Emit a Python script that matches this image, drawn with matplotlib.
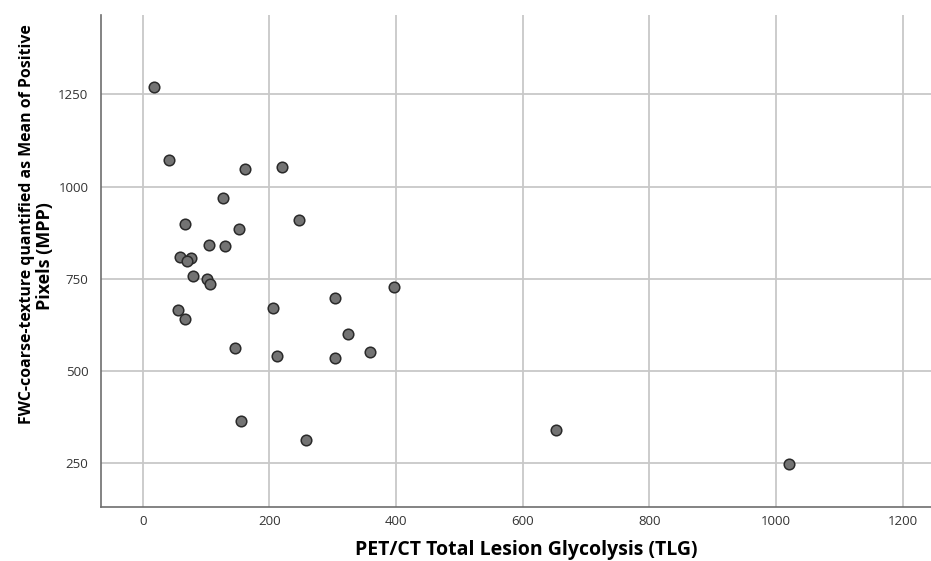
import matplotlib.pyplot as plt

# PET/CT TLG vs FWC coarse-texture (MPP)
tlg = [18, 42, 161, 220, 126, 66, 247, 152, 105, 130, 58, 76, 70, 80,
       102, 106, 397, 304, 55, 67, 205, 324, 145, 212, 303, 359, 155, 257,
       652, 1020]
mpp = [1270, 1072, 1048, 1054, 968, 898, 910, 884, 842, 838, 810, 806, 798, 757,
       750, 737, 728, 698, 665, 640, 670, 601, 563, 541, 535, 551, 365, 314,
       340, 249]

x_ticks = [0, 200, 400, 600, 800, 1000, 1200]
y_ticks = [250, 500, 750, 1000, 1250]

plt.rcParams['font.family'] = ['Open Sans', 'DejaVu Sans']

fig = plt.figure(figsize=(9.31, 5.61), dpi=100)
ax = fig.add_axes([0.1085, 0.0963, 0.8915, 0.877])

ax.grid(True, color='#c8c8c8', linewidth=1.3)
ax.set_axisbelow(True)
ax.scatter(tlg, mpp, s=58, color='#737373', edgecolors='#2a2a2a', linewidths=1.1, zorder=3)

ax.set_xlim(-66, 1245)
ax.set_ylim(132, 1465)
ax.set_xticks(x_ticks)
ax.set_yticks(y_ticks)

for side in ('top', 'right'):
    ax.spines[side].set_visible(False)
for side in ('left', 'bottom'):
    ax.spines[side].set_color('#6e6e6e')
    ax.spines[side].set_linewidth(1.2)
ax.tick_params(length=0, labelsize=9.5, labelcolor='#333333')
ax.tick_params(axis='x', pad=6)
ax.tick_params(axis='y', pad=9)

ax.set_xlabel('PET/CT Total Lesion Glycolysis (TLG)', fontsize=14, fontweight='bold')
ax.xaxis.set_label_coords(0.512, -0.068)

# y label: two lines, second one sits a bit lower like the SPSS output
fig.text(0.029, 0.601, 'FWC-coarse-texture quantified as Mean of Positive',
         rotation=90, ha='center', va='center', fontsize=11.4, fontweight='bold')
fig.text(0.0485, 0.544, 'Pixels (MPP)',
         rotation=90, ha='center', va='center', fontsize=13, fontweight='bold')

fig.savefig('out.png', dpi=100)
